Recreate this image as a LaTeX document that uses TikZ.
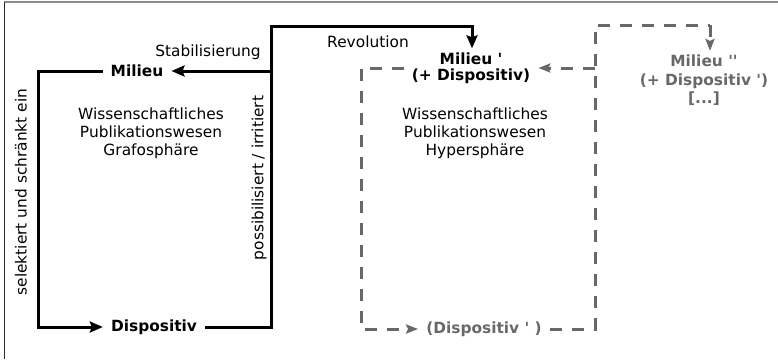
\documentclass[tikz,border=0pt]{standalone}
\usepackage{fontspec}
\setmainfont{DejaVu Sans}[Ligatures=TeXOff]
\usetikzlibrary{arrows.meta}
\definecolor{dgray}{HTML}{686868}
\tikzset{
  txt/.style={inner sep=0pt, font=\fontsize{15.4}{18}\selectfont, align=center},
  bnode/.style={inner xsep=8pt, inner ysep=6pt, font=\fontsize{15.4}{18}\selectfont\bfseries, align=center},
  solidline/.style={line width=3pt, black},
  dashline/.style={line width=3pt, dgray, dash pattern=on 12pt off 10pt},
  btip/.style={-{Stealth[length=13pt,width=11pt,inset=2pt]}},
  gtip/.style={-{Stealth[length=12pt,width=9pt,inset=2pt]}},
}
\begin{document}
\begin{tikzpicture}[x=1pt,y=-1pt]
\useasboundingbox (0,0) rectangle (778,359);
% frame
\draw[line width=2pt, color=gray!90] (4,2) -- (778,2);
\draw[line width=1.3pt, color=black!85] (4.5,2) -- (4.5,359);

% black nodes
\node[bnode] (mil) at (137,71) {Milieu};
\node[bnode] (disp) at (154,327) {Dispositiv};
\node[bnode, font=\fontsize{15.4}{16}\selectfont\bfseries, inner ysep=4pt] (mil2) at (471,68) {Milieu '\\(+ Dispositiv)};
% gray nodes
\node[bnode, text=dgray] (disp2) at (484,329) {(Dispositiv ' )};
\node[bnode, text=dgray, font=\fontsize{15.4}{18.5}\selectfont\bfseries, inner ysep=4pt] (mil3) at (704,80.5) {Milieu ''\\(+ Dispositiv ')\\{[...]}};

% labels
\node[txt] (stab) at (208,52) {Stabilisierung};
\node[txt] (rev) at (368,42) {Revolution};
\node[txt] (wl) at (151,133.5) {Wissenschaftliches\\Publikationswesen\\Grafosphäre};
\node[txt] (wr) at (475,133.5) {Wissenschaftliches\\Publikationswesen\\Hypersphäre};
\node[txt, rotate=90] (sel) at (21,192) {selektiert und schränkt ein};
\node[txt, rotate=90] (poss) at (259,178) {possibilisiert / irritiert};

% black connectors
\coordinate (c1) at (38,71);
\coordinate (c2) at (38,327);
\coordinate (c3) at (271,327);
\coordinate (c4) at (271,26);
\coordinate (c5) at (472,26);
\coordinate (c6) at (271,71);
\draw[solidline, btip, line join=miter] (mil.west) -- (c1) -- (c2) -- (disp.west);
\draw[solidline, btip, line join=miter] (disp.east) -- (c3) -- (c4) -- (c5) -- (c5 |- mil2.north);
\draw[solidline, btip] (c6) -- (mil.east);

% gray dashed connectors
\coordinate (g1) at (361,68);
\coordinate (g2) at (361,329);
\coordinate (g3) at (595,329);
\coordinate (g4) at (595,25);
\coordinate (g5) at (710,25);
\coordinate (g6) at (595,68);
\draw[dashline, gtip] (mil2.west) -- (g1) -- (g2) -- (disp2.west);
\draw[dashline] (disp2.east) -- (g3) -- (g4) -- (g5);
\draw[dashline, gtip] (g5) -- (g5 |- mil3.north);
\draw[dashline, gtip] (g6) -- (mil2.east);
\end{tikzpicture}
\end{document}
